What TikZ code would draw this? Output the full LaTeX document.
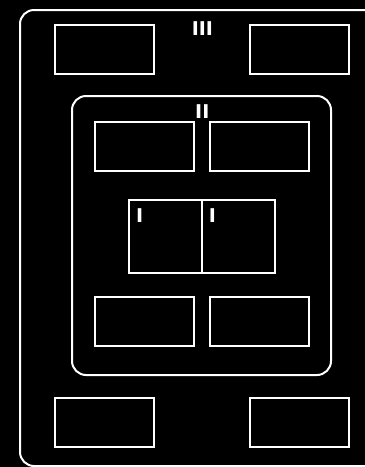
\documentclass[tikz,border=0pt]{standalone}
\usepackage{fontspec}
\setsansfont{DejaVu Sans}
\usetikzlibrary{positioning}
\tikzset{
  cell/.style={draw=white, line width=2pt, minimum width=99pt, minimum height=49pt, inner sep=0pt, outer sep=0pt},
  core/.style={draw=white, line width=2pt, minimum size=73pt, inner sep=0pt, outer sep=0pt},
  zone/.style={draw=white, line width=2pt, rounded corners=14pt, inner sep=0pt},
  tag/.style={text=white, font=\sffamily\bfseries\fontsize{19}{21}\selectfont, inner sep=0pt}
}

\begin{document}
\begin{tikzpicture}[x=1pt, y=-1pt]
        \fill[black] (0,0) rectangle (365,467);
        \useasboundingbox (0,0) rectangle (365,467);
        \clip (0,0) rectangle (365,467);
        % level III
        \node[zone, minimum width=364pt, minimum height=456pt] (zoneIII) at (202,238) {};
        \node[tag] (tagIII) at (202.4,28.4) {III};
        \node[cell] (outTL) at (104.6,49.7) {};
        \node[cell] (outTR) at (299.4,49.7) {};
        \node[cell] (outBL) at (104.6,422.2) {};
        \node[cell] (outBR) at (299.4,422.2) {};
        % level II
        \node[zone, minimum width=259pt, minimum height=279pt] (zoneII) at (201.5,235.5) {};
        \node[tag] (tagII) at (202.3,111.7) {II};
        \node[cell] (inTL) at (144.4,146) {};
        \node[cell] (inTR) at (259.6,146) {};
        \node[cell] (inBL) at (144.4,321.5) {};
        \node[cell] (inBR) at (259.6,321.5) {};
        % level I
        \node[core] (coreL) at (165.5,236) {};
        \node[core] (coreR) at (238.5,236) {};
        \node[tag] (tagL) at ([xshift=10.7pt, yshift=-16.3pt]coreL.north west) {I};
        \node[tag] (tagR) at ([xshift=10.3pt, yshift=-15.6pt]coreR.north west) {I};
    \end{tikzpicture}
\end{document}
